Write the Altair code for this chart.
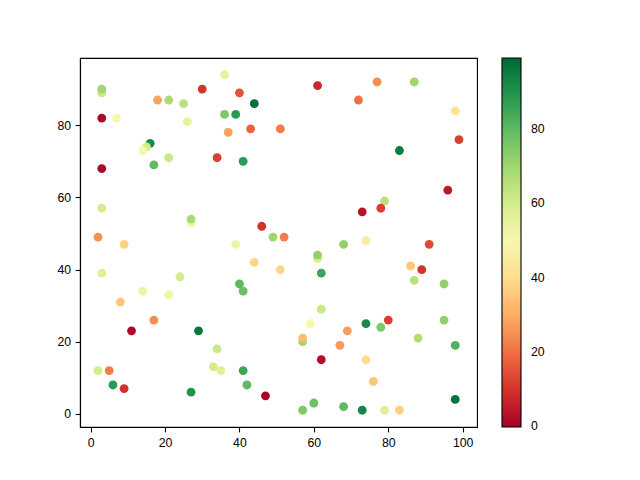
import altair as alt
import pandas as pd

xs = [3, 3, 30, 36, 40, 44, 18, 21, 25, 3, 7, 26, 36, 39, 43, 37, 51, 16, 15, 14, 21, 17, 34, 41, 3, 3,
      27, 27, 46, 49, 2, 9, 39,
      61, 77, 87, 72, 98, 99, 83, 96, 79, 78, 73, 52, 68, 74, 91,
      44, 51, 3, 24, 40, 41, 14, 21, 8, 17, 11, 29, 34, 2, 5, 33, 35, 41, 6, 9, 42, 27, 47,
      61, 61, 86, 89, 62, 87, 95, 62, 59, 74, 78, 80, 69, 95, 57, 57, 88, 67, 98, 62, 74, 76, 98, 60,
      57, 68, 73, 79, 83]
ys = [89, 90, 90, 94, 89, 86, 87, 87, 86, 82, 82, 81, 83, 83, 79, 78, 79, 75, 74, 73, 71, 69, 71, 70, 68, 57,
      53, 54, 52, 49, 49, 47, 47,
      91, 92, 92, 87, 84, 76, 73, 62, 59, 57, 56, 49, 47, 48, 47,
      42, 40, 39, 38, 36, 34, 34, 33, 31, 26, 23, 23, 18, 12, 12, 13, 12, 12, 8, 7, 8, 6, 5,
      43, 44, 41, 40, 39, 37, 36, 29, 25, 25, 24, 26, 23, 26, 20, 21, 21, 19, 19, 15, 15, 9, 4, 3,
      1, 2, 1, 1, 1]
cs = [62, 70, 10, 55, 15, 97, 28, 68, 65, 2, 50, 55, 75, 88, 18, 28, 22, 92, 60, 50, 62, 80, 12, 88, 2, 60,
      52, 68, 10, 70, 25, 37, 52,
      8, 25, 70, 20, 42, 12, 95, 5, 65, 12, 4, 22, 72, 45, 14,
      38, 38, 57, 60, 80, 78, 53, 52, 35, 25, 2, 96, 62, 60, 22, 60, 57, 85, 88, 10, 80, 90, 1,
      58, 72, 35, 10, 85, 65, 72, 62, 50, 92, 75, 12, 27, 72, 70, 33, 67, 27, 82, 3, 40, 35, 97, 78,
      75, 80, 93, 57, 37]
cbar_ticks = [0.3, 20, 40, 60, 80]

df = pd.DataFrame({"x": xs, "y": ys, "c": cs, "order": list(range(len(xs)))})

FONT = "Liberation Sans"
FS = 12.3

chart = alt.Chart(df).mark_circle(size=78, opacity=1).encode(
    x=alt.X("x:Q", scale=alt.Scale(domain=[-2.85, 103.85], nice=False, zero=False),
            axis=alt.Axis(values=[0, 20, 40, 60, 80, 100], title=None)),
    y=alt.Y("y:Q", scale=alt.Scale(domain=[-3.65, 98.65], nice=False, zero=False),
            axis=alt.Axis(values=[0, 20, 40, 60, 80], title=None)),
    color=alt.Color("c:Q", scale=alt.Scale(scheme="redyellowgreen", domain=[0, 99]),
                    legend=alt.Legend(title=None, orient="none", legendX=422, legendY=0,
                                      gradientLength=369, gradientThickness=19,
                                      values=cbar_ticks, direction="vertical",
                                      labelExpr="datum.value < 1 ? '0' : datum.label",
                                      gradientStrokeColor="black", gradientStrokeWidth=1.1,
                                      labelFontSize=FS, labelFont=FONT,
                                      labelColor="black", labelOffset=10, labelOverlap=False,
                                      labelBaseline="middle")),
    order="order:Q",
).properties(
    width=397, height=369,
    autosize=alt.AutoSizeParams(type="none"),
    padding={"left": 72, "top": 50, "right": 150, "bottom": 45},
).configure_view(
    stroke="black", strokeWidth=1.1
).configure_axis(
    grid=False, domainColor="black", domainWidth=1.1, tickColor="black", tickSize=4.9, tickWidth=1.1,
    labelFontSize=FS, labelFont=FONT, labelColor="black", labelPadding=4.5,
    domain=True
)

chart.save("out.html", embed_options={"renderer": "svg", "actions": False})
